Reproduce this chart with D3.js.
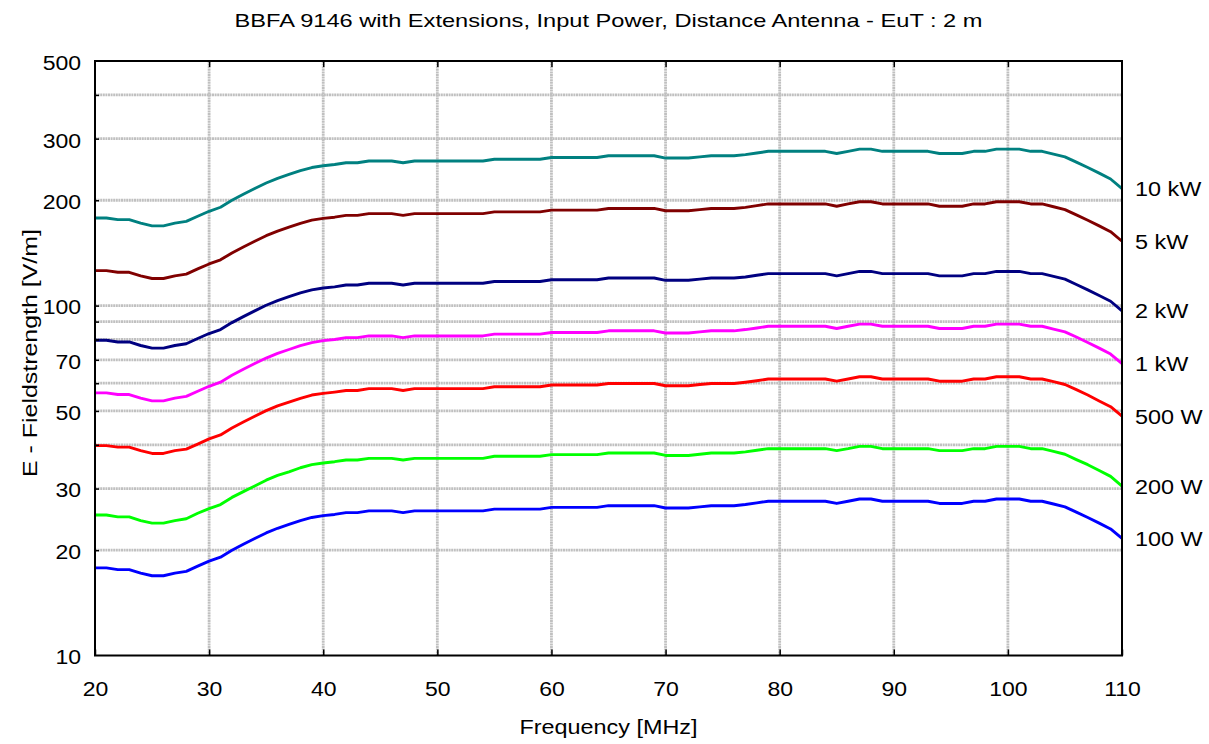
<!DOCTYPE html>
<html>
<head>
<meta charset="utf-8">
<script src="https://cdn.jsdelivr.net/npm/d3@7"></script>
<style>
  html, body { margin: 0; padding: 0; background: #fff; }
  svg { display: block; font-family: "Liberation Sans", Arial, sans-serif; }
</style>
</head>
<body>
<svg id="chart" width="1209" height="744"></svg>
<script>
// ---------------- data ----------------
const chartTitle = "BBFA 9146 with Extensions, Input Power, Distance Antenna - EuT : 2 m";
const xTitle = "Frequency [MHz]";
const yTitle = "E - Fieldstrength [V/m]";

const frequencies = d3.range(20, 111, 1); // MHz, 1 MHz steps

const xTickValues = [20, 30, 40, 50, 60, 70, 80, 90, 100, 110];
const yLabelValues = [10, 20, 30, 50, 70, 100, 200, 300, 500];
const yGridValues = [20, 30, 40, 50, 60, 70, 80, 90, 100, 200, 300, 400];

const seriesNames = ["10 kW", "5 kW", "2 kW", "1 kW", "500 W", "200 W", "100 W"];
const seriesColors = ["#008080", "#800000", "#000080", "#ff00ff", "#ff0000", "#00ff00", "#0000ff"];

const p10k = [
  178,178,176,176,172,169,169,172,174,180,
  186,191,200,208,216,224,231,237,243,248,
  251,253,256,256,259,259,259,256,259,259,
  259,259,259,259,259,262,262,262,262,262,
  265,265,265,265,265,268,268,268,268,268,
  264,264,264,266,268,268,268,270,273,276,
  276,276,276,276,276,272,276,280,280,276,
  276,276,276,276,272,272,272,276,276,280,
  280,280,276,276,271,266,257,248,239,230,
  216];
const p5k = [
  125.9,125.9,124.5,124.5,121.6,119.5,119.5,121.6,123.0,127.3,
  131.5,135.1,141.4,147.1,152.7,158.4,163.3,167.6,171.8,175.4,
  177.5,178.9,181.0,181.0,183.1,183.1,183.1,181.0,183.1,183.1,
  183.1,183.1,183.1,183.1,183.1,185.3,185.3,185.3,185.3,185.3,
  187.4,187.4,187.4,187.4,187.4,189.5,189.5,189.5,189.5,189.5,
  186.7,186.7,186.7,188.1,189.5,189.5,189.5,190.9,193.0,195.2,
  195.2,195.2,195.2,195.2,195.2,192.3,195.2,198.0,198.0,195.2,
  195.2,195.2,195.2,195.2,192.3,192.3,192.3,195.2,195.2,198.0,
  198.0,198.0,195.2,195.2,191.6,188.1,181.7,175.4,169.0,162.6,
  152.7];
const p2k = [
  79.6,79.6,78.7,78.7,76.9,75.6,75.6,76.9,77.8,80.5,
  83.2,85.4,89.4,93.0,96.6,100.2,103.3,106.0,108.7,110.9,
  112.3,113.1,114.5,114.5,115.8,115.8,115.8,114.5,115.8,115.8,
  115.8,115.8,115.8,115.8,115.8,117.2,117.2,117.2,117.2,117.2,
  118.5,118.5,118.5,118.5,118.5,119.9,119.9,119.9,119.9,119.9,
  118.1,118.1,118.1,119.0,119.9,119.9,119.9,120.7,122.1,123.4,
  123.4,123.4,123.4,123.4,123.4,121.6,123.4,125.2,125.2,123.4,
  123.4,123.4,123.4,123.4,121.6,121.6,121.6,123.4,123.4,125.2,
  125.2,125.2,123.4,123.4,121.2,119.0,114.9,110.9,106.9,102.9,
  96.6];
const p1k = [
  56.3,56.3,55.7,55.7,54.4,53.4,53.4,54.4,55.0,56.9,
  58.8,60.4,63.2,65.8,68.3,70.8,73.0,74.9,76.8,78.4,
  79.4,80.0,81.0,81.0,81.9,81.9,81.9,81.0,81.9,81.9,
  81.9,81.9,81.9,81.9,81.9,82.9,82.9,82.9,82.9,82.9,
  83.8,83.8,83.8,83.8,83.8,84.7,84.7,84.7,84.7,84.7,
  83.5,83.5,83.5,84.1,84.7,84.7,84.7,85.4,86.3,87.3,
  87.3,87.3,87.3,87.3,87.3,86.0,87.3,88.5,88.5,87.3,
  87.3,87.3,87.3,87.3,86.0,86.0,86.0,87.3,87.3,88.5,
  88.5,88.5,87.3,87.3,85.7,84.1,81.3,78.4,75.6,72.7,
  68.3];
const p500 = [
  39.8,39.8,39.4,39.4,38.5,37.8,37.8,38.5,38.9,40.2,
  41.6,42.7,44.7,46.5,48.3,50.1,51.7,53.0,54.3,55.5,
  56.1,56.6,57.2,57.2,57.9,57.9,57.9,57.2,57.9,57.9,
  57.9,57.9,57.9,57.9,57.9,58.6,58.6,58.6,58.6,58.6,
  59.3,59.3,59.3,59.3,59.3,59.9,59.9,59.9,59.9,59.9,
  59.0,59.0,59.0,59.5,59.9,59.9,59.9,60.4,61.0,61.7,
  61.7,61.7,61.7,61.7,61.7,60.8,61.7,62.6,62.6,61.7,
  61.7,61.7,61.7,61.7,60.8,60.8,60.8,61.7,61.7,62.6,
  62.6,62.6,61.7,61.7,60.6,59.5,57.5,55.5,53.4,51.4,
  48.3];
const p200 = [
  25.2,25.2,24.9,24.9,24.3,23.9,23.9,24.3,24.6,25.5,
  26.3,27.0,28.3,29.4,30.5,31.7,32.7,33.5,34.4,35.1,
  35.5,35.8,36.2,36.2,36.6,36.6,36.6,36.2,36.6,36.6,
  36.6,36.6,36.6,36.6,36.6,37.1,37.1,37.1,37.1,37.1,
  37.5,37.5,37.5,37.5,37.5,37.9,37.9,37.9,37.9,37.9,
  37.3,37.3,37.3,37.6,37.9,37.9,37.9,38.2,38.6,39.0,
  39.0,39.0,39.0,39.0,39.0,38.5,39.0,39.6,39.6,39.0,
  39.0,39.0,39.0,39.0,38.5,38.5,38.5,39.0,39.0,39.6,
  39.6,39.6,39.0,39.0,38.3,37.6,36.3,35.1,33.8,32.5,
  30.5];
const p100 = [
  17.8,17.8,17.6,17.6,17.2,16.9,16.9,17.2,17.4,18.0,
  18.6,19.1,20.0,20.8,21.6,22.4,23.1,23.7,24.3,24.8,
  25.1,25.3,25.6,25.6,25.9,25.9,25.9,25.6,25.9,25.9,
  25.9,25.9,25.9,25.9,25.9,26.2,26.2,26.2,26.2,26.2,
  26.5,26.5,26.5,26.5,26.5,26.8,26.8,26.8,26.8,26.8,
  26.4,26.4,26.4,26.6,26.8,26.8,26.8,27.0,27.3,27.6,
  27.6,27.6,27.6,27.6,27.6,27.2,27.6,28.0,28.0,27.6,
  27.6,27.6,27.6,27.6,27.2,27.2,27.2,27.6,27.6,28.0,
  28.0,28.0,27.6,27.6,27.1,26.6,25.7,24.8,23.9,23.0,
  21.6];

const seriesValues = [p10k, p5k, p2k, p1k, p500, p200, p100];

// ---------------- layout ----------------
const svg = d3.select("#chart");
const margin = { left: 95, right: 1122, top: 61, bottom: 655.5 };
const FONT = "Liberation Sans, Arial, sans-serif";

const x = d3.scaleLinear().domain([20, 110]).range([margin.left, margin.right]);
const y = d3.scaleLog().domain([10, 500]).range([margin.bottom, margin.top]);

// widen text horizontally (reference text is slightly stretched)
function stretch(sel, k) {
  sel.each(function () {
    const L = this.getComputedTextLength();
    d3.select(this).attr("textLength", L * k).attr("lengthAdjust", "spacingAndGlyphs");
  });
}

// grid
const grid = svg.append("g").attr("class", "grid");
grid.selectAll("line.h").data(yGridValues).join("line")
  .attr("x1", margin.left).attr("x2", margin.right)
  .attr("y1", d => y(d)).attr("y2", d => y(d))
  .attr("stroke", "#c0c0c0").attr("stroke-width", 2.8)
  .attr("stroke-dasharray", "2,0.6");
grid.selectAll("line.v").data(xTickValues.slice(1, -1)).join("line")
  .attr("y1", margin.top).attr("y2", margin.bottom)
  .attr("x1", d => x(d)).attr("x2", d => x(d))
  .attr("stroke", "#c0c0c0").attr("stroke-width", 2.8)
  .attr("stroke-dasharray", "2,0.6");

// series
const line = d3.line()
  .x((d, i) => x(frequencies[i]))
  .y(d => y(d));

svg.append("g").selectAll("path").data(seriesValues).join("path")
  .attr("d", d => line(d))
  .attr("fill", "none")
  .attr("stroke", (d, i) => seriesColors[i])
  .attr("stroke-width", 2.9)
  .attr("stroke-linejoin", "round");

// frame
svg.append("rect")
  .attr("x", margin.left).attr("y", margin.top)
  .attr("width", margin.right - margin.left)
  .attr("height", margin.bottom - margin.top)
  .attr("fill", "none").attr("stroke", "#000").attr("stroke-width", 2);

// axes
const fontSize = 20;
const yAxis = svg.append("g")
  .attr("transform", `translate(${margin.left},0)`)
  .call(d3.axisLeft(y).tickValues(yLabelValues).tickFormat(d3.format("d")).tickSize(0).tickPadding(14));
yAxis.select(".domain").remove();
yAxis.selectAll("text").attr("font-size", fontSize).attr("font-family", FONT)
  .attr("fill", "#000").attr("dy", "0.42em");
stretch(yAxis.selectAll("text"), 1.15);

const yInTicks = svg.append("g")
  .attr("transform", `translate(${margin.left},0)`)
  .call(d3.axisRight(y).tickValues(yGridValues).tickFormat("").tickSize(4));
yInTicks.select(".domain").remove();
yInTicks.selectAll("line").attr("stroke", "#000").attr("stroke-width", 1.5);

const xAxis = svg.append("g")
  .attr("transform", `translate(0,${margin.bottom})`)
  .call(d3.axisBottom(x).tickValues(xTickValues).tickFormat(d3.format("d")).tickSizeInner(-6).tickSizeOuter(0).tickPadding(26));
xAxis.select(".domain").remove();
xAxis.selectAll("line").attr("stroke", "#000").attr("stroke-width", 1.5);
xAxis.selectAll("text").attr("font-size", fontSize).attr("font-family", FONT).attr("fill", "#000");
stretch(xAxis.selectAll("text"), 1.15);

const xTop = svg.append("g")
  .attr("transform", `translate(0,${margin.top})`)
  .call(d3.axisTop(x).tickValues(xTickValues.slice(1, -1)).tickFormat("").tickSizeInner(-6).tickSizeOuter(0));
xTop.select(".domain").remove();
xTop.selectAll("line").attr("stroke", "#000").attr("stroke-width", 1.5);

// series labels at right
const labels = svg.append("g").selectAll("text").data(seriesNames).join("text")
  .attr("x", margin.right + 13)
  .attr("y", (d, i) => y(seriesValues[i][seriesValues[i].length - 1]))
  .attr("dy", "0.38em")
  .attr("font-size", fontSize)
  .attr("fill", "#000")
  .text(d => d);
stretch(labels, 1.17);

// titles
const t1 = svg.append("text")
  .attr("x", (margin.left + margin.right) / 2).attr("y", 27)
  .attr("text-anchor", "middle").attr("font-size", 19).attr("fill", "#000")
  .text(chartTitle);
stretch(t1, 748 / t1.node().getComputedTextLength());

const t2 = svg.append("text")
  .attr("x", (margin.left + margin.right) / 2).attr("y", 734)
  .attr("text-anchor", "middle").attr("font-size", 20).attr("fill", "#000")
  .text(xTitle);
stretch(t2, 178 / t2.node().getComputedTextLength());

const t3 = svg.append("text")
  .attr("transform", `translate(37,353) rotate(-90)`)
  .attr("text-anchor", "middle").attr("font-size", 20).attr("fill", "#000")
  .text(yTitle);
stretch(t3, 248 / t3.node().getComputedTextLength());
</script>
</body>
</html>
